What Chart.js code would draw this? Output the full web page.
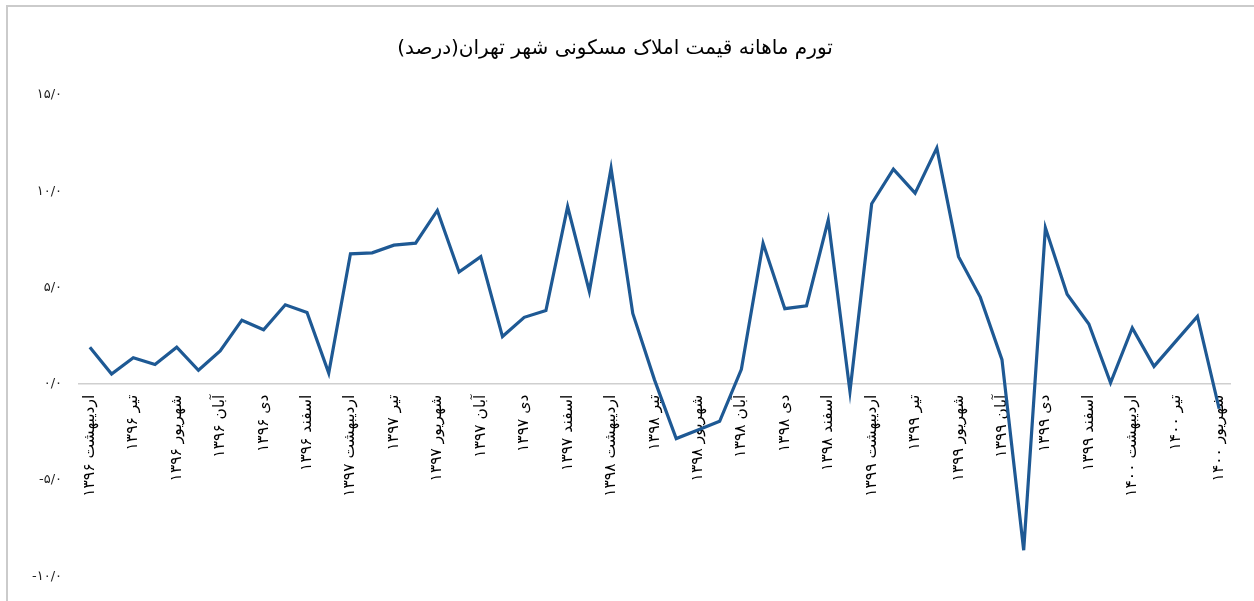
<!DOCTYPE html>
<html><head><meta charset="utf-8">
<script src="https://cdn.jsdelivr.net/npm/chart.js@4"></script>
<style>
html,body{margin:0;padding:0;background:#fff}
#wrap{position:relative;width:1254px;height:601px}
.bl{position:absolute;left:6px;top:5px;width:2px;height:596px;background:#cbcbcb}
.bt{position:absolute;left:6px;top:5px;width:1248px;height:2px;background:#cbcbcb}
</style>
</head><body>
<div id="wrap"><canvas id="c" width="1254" height="601"></canvas><div class="bl"></div><div class="bt"></div></div>
<script>
const chartTitle = 'تورم ماهانه قیمت املاک مسکونی شهر تهران(درصد)';
const categories = [
 'اردیبهشت ۱۳۹۶','خرداد ۱۳۹۶','تیر ۱۳۹۶','مرداد ۱۳۹۶','شهریور ۱۳۹۶','مهر ۱۳۹۶','آبان ۱۳۹۶','آذر ۱۳۹۶','دی ۱۳۹۶','بهمن ۱۳۹۶','اسفند ۱۳۹۶',
 'فروردین ۱۳۹۷','اردیبهشت ۱۳۹۷','خرداد ۱۳۹۷','تیر ۱۳۹۷','مرداد ۱۳۹۷','شهریور ۱۳۹۷','مهر ۱۳۹۷','آبان ۱۳۹۷','آذر ۱۳۹۷','دی ۱۳۹۷','بهمن ۱۳۹۷','اسفند ۱۳۹۷',
 'فروردین ۱۳۹۸','اردیبهشت ۱۳۹۸','خرداد ۱۳۹۸','تیر ۱۳۹۸','مرداد ۱۳۹۸','شهریور ۱۳۹۸','مهر ۱۳۹۸','آبان ۱۳۹۸','آذر ۱۳۹۸','دی ۱۳۹۸','بهمن ۱۳۹۸','اسفند ۱۳۹۸',
 'فروردین ۱۳۹۹','اردیبهشت ۱۳۹۹','خرداد ۱۳۹۹','تیر ۱۳۹۹','مرداد ۱۳۹۹','شهریور ۱۳۹۹','مهر ۱۳۹۹','آبان ۱۳۹۹','آذر ۱۳۹۹','دی ۱۳۹۹','بهمن ۱۳۹۹','اسفند ۱۳۹۹',
 'فروردین ۱۴۰۰','اردیبهشت ۱۴۰۰','خرداد ۱۴۰۰','تیر ۱۴۰۰','مرداد ۱۴۰۰','شهریور ۱۴۰۰'
];
const inflation = [
 1.9, 0.5, 1.35, 1.0, 1.9, 0.7, 1.7, 3.3, 2.8, 4.1, 3.7,
 0.55, 6.75, 6.8, 7.2, 7.3, 9.0, 5.8, 6.6, 2.45, 3.45, 3.8, 9.2,
 4.8, 11.2, 3.65, 0.2, -2.85, -2.4, -1.95, 0.75, 7.3, 3.9, 4.05, 8.5,
 -0.4, 9.35, 11.15, 9.9, 12.25, 6.6, 4.5, 1.25, -8.65, 8.1, 4.65, 3.1,
 0.05, 2.9, 0.9, 2.2, 3.5, -1.3
];
const yTicks = [-10, -5, 0, 5, 10, 15];

const faDigits = '۰۱۲۳۴۵۶۷۸۹';
function toFa(s){ return String(s).replace(/[0-9]/g, d => faDigits[+d]); }

const FONT = "'DejaVu Sans', sans-serif";
new Chart(document.getElementById('c'), {
  type: 'line',
  data: {
    labels: categories,
    datasets: [{
      label: 'تورم ماهانه',
      data: inflation,
      borderColor: '#1e5994',
      borderWidth: 3.2,
      pointRadius: 0,
      tension: 0,
      fill: false
    }]
  },
  options: {
    responsive: false,
    animation: false,
    layout: { padding: { left: 0, right: 24, top: 0, bottom: 24 } },
    plugins: {
      legend: { display: false },
      tooltip: { enabled: false },
      title: {
        display: true,
        text: chartTitle,
        color: '#000',
        font: { family: FONT, size: 20, weight: 'normal' },
        padding: { top: 37, bottom: 34 }
      }
    },
    scales: {
      x: {
        position: { y: 0 },
        offset: true,
        grid: { display: false, drawTicks: false },
        border: { display: true, color: '#cfcfcf', width: 1.5 },
        ticks: {
          autoSkip: false,
          maxRotation: 90,
          minRotation: 90,
          padding: 11,
          color: '#000',
          font: { family: FONT, size: 15.5 },
          callback: function(v, i){ return i % 2 === 0 ? categories[i] : ''; }
        }
      },
      y: {
        min: -10, max: 15,
        afterBuildTicks: s => { s.ticks = yTicks.map(v => ({ value: v })); },
        afterFit: s => { s.width = 79; },
        grid: { display: false, drawTicks: false },
        border: { display: false },
        ticks: {
          padding: 17,
          color: '#222',
          font: { family: FONT, size: 13 },
          callback: v => toFa(v.toFixed(1).replace('.', '/'))
        }
      }
    }
  }
});
</script>
</body></html>
